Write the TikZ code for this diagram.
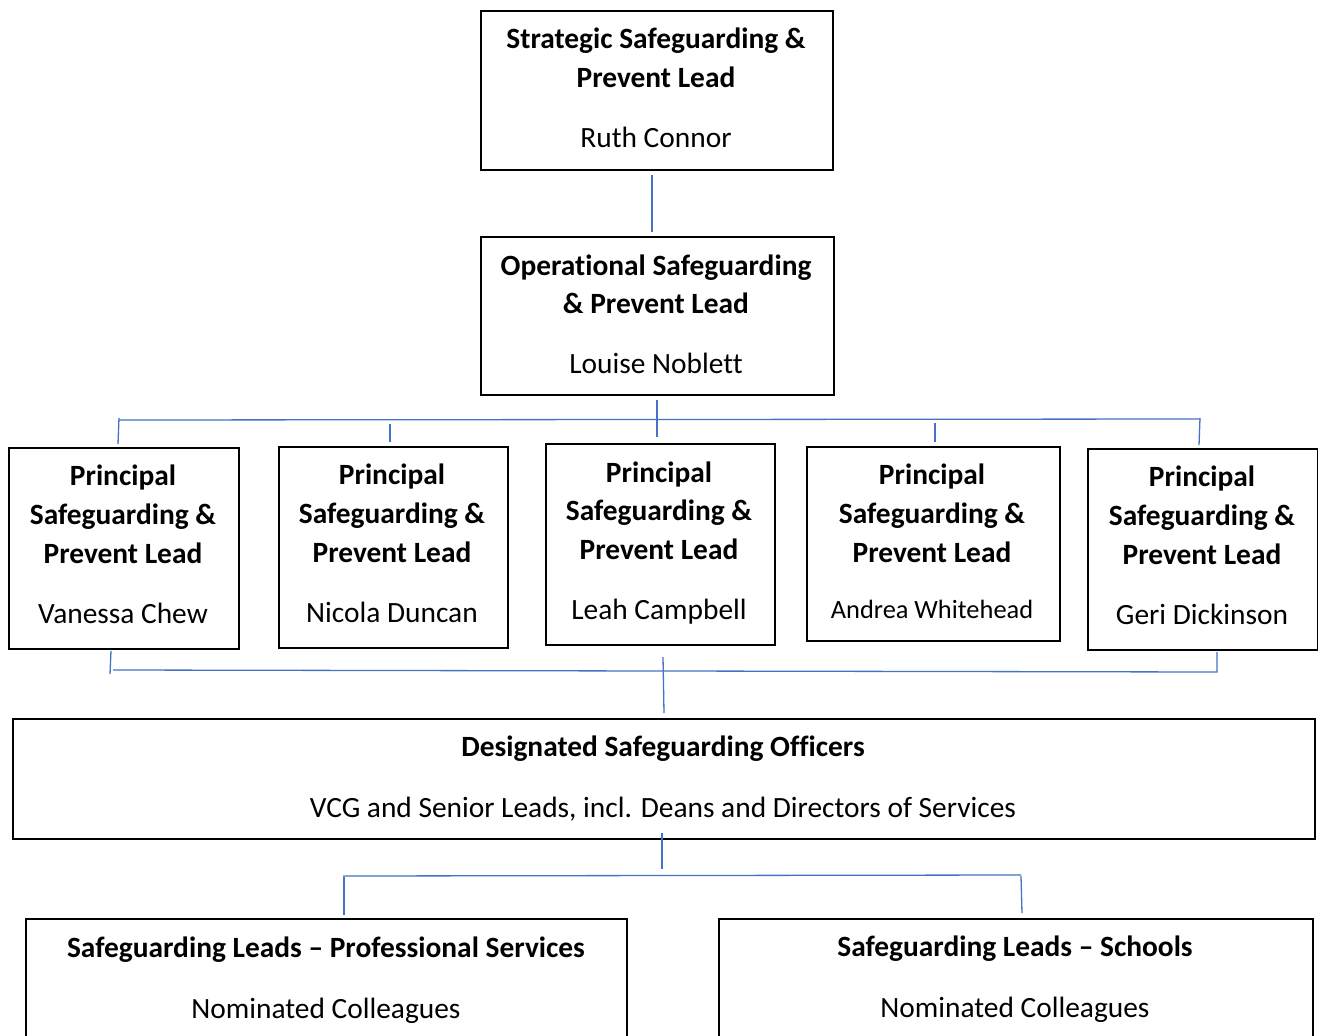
\documentclass[tikz,border=0pt]{standalone}
\usepackage{fontspec}
\setmainfont[Ligatures={TeX,NoCommon}]{Carlito}
\definecolor{connblue}{HTML}{4472C4}
\begin{document}
\begin{tikzpicture}[x=1pt,y=-1pt,
  box/.style={draw, line width=1.8pt, inner sep=0pt, anchor=north west},
  lead/.style={font=\fontsize{29.4}{35}\selectfont\bfseries, anchor=base, inner sep=0pt},
  who/.style={font=\fontsize{29.4}{35}\selectfont, anchor=base, inner sep=0pt},
  whosmall/.style={font=\fontsize{26.4}{31}\selectfont, anchor=base, inner sep=0pt},
  conn/.style={draw=connblue, line width=1.3pt}]
\useasboundingbox (0,0) rectangle (1318,1036);
\clip (0,0) rectangle (1318,1036);
\fill[white] (0,0) rectangle (1318,1036);

% Top
\node[box, minimum width=352pt, minimum height=159pt] (strat) at (480,10) {};
\node[lead] (stratA) at (656,48) {Strategic Safeguarding \&};
\node[lead] (stratB) at (656,87) {Prevent Lead};
\node[who] (stratN) at (656,147) {Ruth Connor};

% Operational
\node[box, minimum width=353pt, minimum height=158pt] (oper) at (480,236) {};
\node[lead] (operA) at (656,275) {Operational Safeguarding};
\node[lead] (operB) at (656,313) {\& Prevent Lead};
\node[who] (operN) at (656,373) {Louise Noblett};

% Principals
\foreach \i/\x/\y/\w/\h/\cx/\ya/\yb/\yc/\yn/\nm/\st in {
  1/8/447/230/201/123/485/524/563/623/Vanessa Chew/who,
  2/278/446/229/201/392/484/523/562/622/Nicola Duncan/who,
  3/545/443/229/201/659/482/520/559/619/Leah Campbell/who,
  4/806/446/253/194/932/484/523/562/618/Andrea Whitehead/whosmall,
  5/1087/448/230/201/1202/486/525/564/624/Geri Dickinson/who}{
  \node[box, minimum width=\w pt, minimum height=\h pt] (p\i) at (\x,\y) {};
  \node[lead] (p\i a) at (\cx,\ya) {Principal};
  \node[lead] (p\i b) at (\cx,\yb) {Safeguarding \&};
  \node[lead] (p\i c) at (\cx,\yc) {Prevent Lead};
  \node[\st] (p\i n) at (\cx,\yn) {\nm};
}

% DSO
\node[box, minimum width=1302pt, minimum height=120pt] (dso) at (12,718) {};
\node[lead] (dsoA) at (663,756) {Designated Safeguarding Officers};
\node[who] (dsoN) at (663,817) {VCG and Senior Leads, incl. Deans and Directors of Services};

% Bottom
\node[box, minimum width=601pt, minimum height=140pt] (ps) at (25,918) {};
\node[lead] (psA) at (326,957) {Safeguarding Leads – Professional Services};
\node[who] (psN) at (326,1018) {Nominated Colleagues};
\node[box, minimum width=594pt, minimum height=140pt] (sch) at (718,918) {};
\node[lead] (schA) at (1015,956) {Safeguarding Leads – Schools};
\node[who] (schN) at (1015,1017) {Nominated Colleagues};

% Connectors
\coordinate (s1) at (652,175); \coordinate (s2) at (652,232);
\draw[conn] (s1) -- (s2);

\coordinate (o1) at (657,400); \coordinate (o2) at (657,437);
\draw[conn] (o1) -- (o2);
\coordinate (hL) at (119,420); \coordinate (hR) at (1200,419);
\draw[conn] (hL) -- (hR);
\coordinate (t1a) at (119,418); \coordinate (t1b) at (118,444);
\draw[conn] (t1a) -- (t1b);
\coordinate (t2a) at (390,424); \coordinate (t2b) at (390,442);
\draw[conn] (t2a) -- (t2b);
\coordinate (t4a) at (935,423); \coordinate (t4b) at (935,442);
\draw[conn] (t4a) -- (t4b);
\coordinate (t5a) at (1200,418); \coordinate (t5b) at (1199,445);
\draw[conn] (t5a) -- (t5b);

\coordinate (b1a) at (111,651); \coordinate (b1b) at (110,674);
\draw[conn] (b1a) -- (b1b);
\coordinate (bL) at (113,670); \coordinate (bR) at (1217,672);
\coordinate (b5a) at (1217,652);
\draw[conn] (bL) -- (bR) -- (b5a);
\coordinate (bc1) at (663,657); \coordinate (bc2) at (664,713);
\draw[conn] (bc1) -- (bc2);

\coordinate (d1) at (662,833); \coordinate (d2) at (662,869);
\draw[conn] (d1) -- (d2);
\coordinate (dL) at (343,876); \coordinate (dR) at (1021,875);
\draw[conn] (dL) -- (dR);
\coordinate (dLa) at (344,877); \coordinate (dLb) at (344,915);
\draw[conn] (dLa) -- (dLb);
\coordinate (dRa) at (1021,876); \coordinate (dRb) at (1022,913);
\draw[conn] (dRa) -- (dRb);
\end{tikzpicture}
\end{document}
